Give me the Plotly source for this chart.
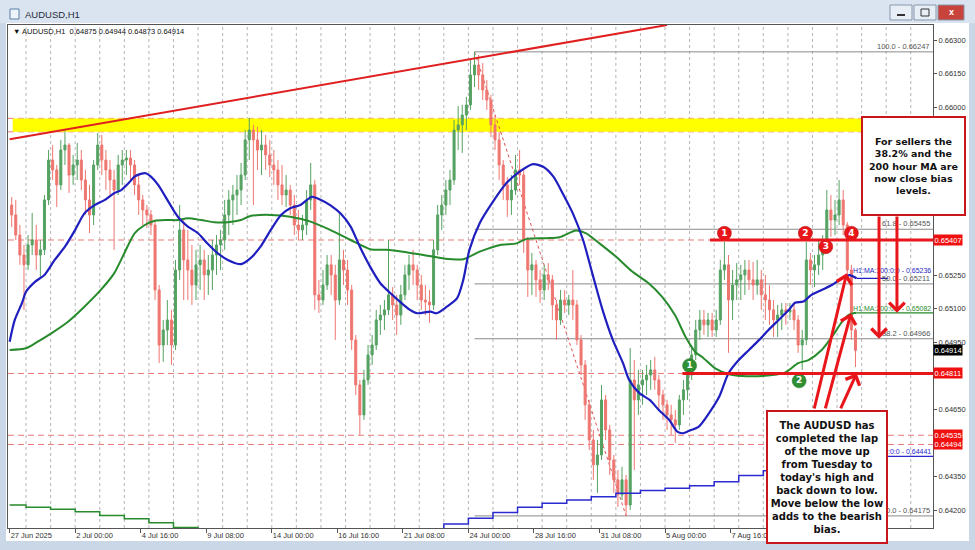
import plotly.graph_objects as go

# ---------------- data ----------------
# one candle per 4 trading hours; x = hours since the first bar on the chart
bar_hour = [4 * i + 2 for i in range(207)]
first_open = 0.65563
high = [
    0.65599, 0.65586, 0.65474, 0.65385, 0.65429, 0.65528, 0.65474, 0.65407, 0.65608, 0.65809,
    0.65831, 0.65742, 0.65854, 0.65893, 0.65840, 0.65787, 0.65840, 0.65809, 0.65720, 0.65653,
    0.65764, 0.65885, 0.65876, 0.65809, 0.65764, 0.65720, 0.65787, 0.65809, 0.65809, 0.65809,
    0.65764, 0.65697, 0.65608, 0.65563, 0.65541, 0.65496, 0.65206, 0.65050, 0.65139, 0.65095,
    0.65318, 0.65563, 0.65496, 0.65452, 0.65385, 0.65363, 0.65385, 0.65363, 0.65340, 0.65407,
    0.65429, 0.65452, 0.65586, 0.65630, 0.65653, 0.65697, 0.65751, 0.65898, 0.65952, 0.65921,
    0.65912, 0.65898, 0.65876, 0.65854, 0.65809, 0.65764, 0.65742, 0.65697, 0.65653, 0.65608,
    0.65541, 0.65519, 0.65630, 0.65751, 0.65675, 0.65229, 0.65273, 0.65340, 0.65340, 0.65296,
    0.65528, 0.65363, 0.65318, 0.65206, 0.64983, 0.64782, 0.64827, 0.64938, 0.64983, 0.65095,
    0.65117, 0.65139, 0.65407, 0.65197, 0.65162, 0.65206, 0.65296, 0.65340, 0.65363, 0.65296,
    0.65251, 0.65206, 0.65184, 0.65407, 0.65563, 0.65608, 0.65675, 0.65720, 0.65943, 0.66005,
    0.66010, 0.66046, 0.66211, 0.66247, 0.66233, 0.66197, 0.66121, 0.66055, 0.65965, 0.65885,
    0.65764, 0.65688, 0.65697, 0.65787, 0.65809, 0.65720, 0.65421, 0.65349, 0.65318, 0.65273,
    0.65296, 0.65304, 0.65251, 0.65139, 0.65184, 0.65184, 0.65162, 0.65273, 0.65139, 0.64983,
    0.64871, 0.64693, 0.64559, 0.64514, 0.64760, 0.64715, 0.64581, 0.64447, 0.64380, 0.64394,
    0.64358, 0.64925, 0.64871, 0.64827, 0.64827, 0.64849, 0.64871, 0.64885, 0.64804, 0.64738,
    0.64693, 0.64671, 0.64648, 0.64715, 0.64782, 0.64849, 0.64938, 0.65050, 0.65095, 0.65095,
    0.65081, 0.65081, 0.65095, 0.65318, 0.65398, 0.65340, 0.65273, 0.65304, 0.65296, 0.65318,
    0.65318, 0.65309, 0.65318, 0.65273, 0.65251, 0.65206, 0.65139, 0.65117, 0.65126, 0.65126,
    0.65126, 0.65117, 0.65072, 0.65005, 0.65398, 0.65349, 0.65340, 0.65407, 0.65429, 0.65630,
    0.65608, 0.65586, 0.65675, 0.65630, 0.65487, 0.65296, 0.65014]
low = [
    0.65465, 0.65407, 0.65296, 0.65095, 0.65273, 0.65340, 0.65273, 0.65242, 0.65340, 0.65563,
    0.65675, 0.65554, 0.65630, 0.65742, 0.65617, 0.65653, 0.65675, 0.65630, 0.65519, 0.65438,
    0.65474, 0.65720, 0.65697, 0.65630, 0.65608, 0.65363, 0.65608, 0.65653, 0.65697, 0.65675,
    0.65608, 0.65519, 0.65474, 0.65461, 0.65429, 0.65139, 0.64858, 0.64863, 0.64938, 0.64849,
    0.64916, 0.65229, 0.65139, 0.65139, 0.65117, 0.65139, 0.65184, 0.65139, 0.65162, 0.65184,
    0.65251, 0.65273, 0.65363, 0.65429, 0.65474, 0.65519, 0.65563, 0.65675, 0.65764, 0.65563,
    0.65720, 0.65697, 0.65720, 0.65688, 0.65653, 0.65586, 0.65563, 0.65554, 0.65519, 0.65429,
    0.65407, 0.65407, 0.65429, 0.65541, 0.65095, 0.65081, 0.65117, 0.65184, 0.65162, 0.64961,
    0.65117, 0.65206, 0.65117, 0.64916, 0.64715, 0.64537, 0.64604, 0.64760, 0.64849, 0.64916,
    0.64983, 0.65005, 0.65072, 0.65050, 0.64983, 0.65028, 0.65139, 0.65184, 0.65206, 0.65139,
    0.65095, 0.65072, 0.65037, 0.65095, 0.65340, 0.65452, 0.65519, 0.65563, 0.65653, 0.65809,
    0.65796, 0.65898, 0.65988, 0.66090, 0.66077, 0.66032, 0.65988, 0.65867, 0.65809, 0.65675,
    0.65586, 0.65510, 0.65519, 0.65608, 0.65653, 0.65349, 0.65153, 0.65162, 0.65153, 0.65126,
    0.65139, 0.65184, 0.65050, 0.64961, 0.65028, 0.65081, 0.65072, 0.65050, 0.64938, 0.64804,
    0.64604, 0.64470, 0.64336, 0.64278, 0.64425, 0.64514, 0.64358, 0.64278, 0.64215, 0.64246,
    0.64175, 0.64202, 0.64380, 0.64626, 0.64671, 0.64715, 0.64738, 0.64738, 0.64648, 0.64604,
    0.64559, 0.64537, 0.64501, 0.64559, 0.64626, 0.64693, 0.64782, 0.64871, 0.64961, 0.64983,
    0.64974, 0.64974, 0.64974, 0.65028, 0.65229, 0.64903, 0.65050, 0.65139, 0.65139, 0.65162,
    0.65184, 0.65139, 0.65162, 0.65095, 0.65050, 0.65028, 0.64974, 0.64974, 0.65005, 0.65028,
    0.65050, 0.65005, 0.64903, 0.64827, 0.64938, 0.65206, 0.65197, 0.65251, 0.65273, 0.65363,
    0.65421, 0.65429, 0.65474, 0.65429, 0.65229, 0.64961, 0.64840]
close = [
    0.65519, 0.65429, 0.65340, 0.65296, 0.65385, 0.65407, 0.65340, 0.65363, 0.65586, 0.65764,
    0.65720, 0.65653, 0.65809, 0.65831, 0.65697, 0.65742, 0.65764, 0.65675, 0.65586, 0.65519,
    0.65742, 0.65831, 0.65764, 0.65720, 0.65675, 0.65630, 0.65742, 0.65764, 0.65773, 0.65742,
    0.65653, 0.65586, 0.65541, 0.65519, 0.65474, 0.65184, 0.64938, 0.65005, 0.65050, 0.64938,
    0.65273, 0.65452, 0.65318, 0.65273, 0.65206, 0.65296, 0.65318, 0.65251, 0.65273, 0.65340,
    0.65385, 0.65407, 0.65519, 0.65586, 0.65608, 0.65630, 0.65697, 0.65854, 0.65898, 0.65854,
    0.65809, 0.65831, 0.65787, 0.65742, 0.65720, 0.65653, 0.65608, 0.65630, 0.65563, 0.65474,
    0.65452, 0.65474, 0.65586, 0.65653, 0.65162, 0.65139, 0.65206, 0.65296, 0.65251, 0.65139,
    0.65318, 0.65273, 0.65184, 0.64961, 0.64760, 0.64626, 0.64782, 0.64894, 0.64938, 0.65050,
    0.65072, 0.65095, 0.65162, 0.65117, 0.65072, 0.65162, 0.65251, 0.65296, 0.65273, 0.65206,
    0.65139, 0.65130, 0.65117, 0.65363, 0.65519, 0.65563, 0.65630, 0.65675, 0.65898, 0.65921,
    0.65965, 0.66010, 0.66144, 0.66188, 0.66144, 0.66077, 0.66032, 0.65921, 0.65854, 0.65742,
    0.65653, 0.65586, 0.65630, 0.65720, 0.65697, 0.65407, 0.65273, 0.65296, 0.65229, 0.65184,
    0.65251, 0.65229, 0.65117, 0.65050, 0.65139, 0.65117, 0.65139, 0.65117, 0.64961, 0.64849,
    0.64671, 0.64514, 0.64403, 0.64447, 0.64693, 0.64559, 0.64425, 0.64336, 0.64269, 0.64336,
    0.64224, 0.64782, 0.64693, 0.64760, 0.64782, 0.64804, 0.64827, 0.64782, 0.64715, 0.64671,
    0.64626, 0.64604, 0.64581, 0.64693, 0.64738, 0.64804, 0.64894, 0.65005, 0.65050, 0.65028,
    0.65050, 0.65005, 0.65050, 0.65273, 0.65296, 0.65139, 0.65206, 0.65229, 0.65251, 0.65273,
    0.65229, 0.65206, 0.65229, 0.65162, 0.65139, 0.65095, 0.65050, 0.65072, 0.65095, 0.65086,
    0.65095, 0.65050, 0.64938, 0.64961, 0.65318, 0.65273, 0.65296, 0.65340, 0.65385, 0.65541,
    0.65496, 0.65519, 0.65586, 0.65474, 0.65273, 0.65005, 0.64914]
open_ = [first_open] + close[:-1]

ma100_hour = [0, 5, 12, 16, 25, 34, 44, 54, 64, 73, 83, 93, 102, 109, 116, 122, 128, 133, 138, 145,
              154, 161, 167, 174, 184, 193, 203, 213, 226, 235, 245, 255, 265, 274, 284, 295, 304, 313, 323, 333,
              342, 352, 362, 372, 381, 391, 398, 411, 417, 427, 437, 443, 449, 459, 472, 485, 498, 511, 521, 531,
              540, 550, 560, 569, 579, 589, 599, 605, 615, 625, 634, 644, 652, 657, 663, 673, 683, 693, 702, 712,
              722, 732, 741, 751, 761, 767, 775, 783, 793, 803, 813, 820, 827]
ma100 = [0.64953, 0.65050, 0.65125, 0.65176, 0.65221, 0.65251, 0.65318, 0.65377, 0.65452, 0.65526,
         0.65563, 0.65586, 0.65616, 0.65630, 0.65660, 0.65690, 0.65702, 0.65705, 0.65690, 0.65653,
         0.65586, 0.65533, 0.65496, 0.65467, 0.65437, 0.65392, 0.65348, 0.65318, 0.65299, 0.65325,
         0.65377, 0.65452, 0.65519, 0.65549, 0.65563, 0.65600, 0.65586, 0.65563, 0.65526, 0.65467,
         0.65377, 0.65288, 0.65214, 0.65169, 0.65132, 0.65095, 0.65080, 0.65087, 0.65080, 0.65109,
         0.65147, 0.65229, 0.65363, 0.65482, 0.65578, 0.65660, 0.65712, 0.65746, 0.65734, 0.65690,
         0.65616, 0.65526, 0.65407, 0.65258, 0.65095, 0.64961, 0.64857, 0.64782, 0.64723, 0.64693,
         0.64648, 0.64604, 0.64551, 0.64544, 0.64554, 0.64574, 0.64634, 0.64708, 0.64812, 0.64871,
         0.64916, 0.64961, 0.65005, 0.65050, 0.65095, 0.65127, 0.65132, 0.65162, 0.65184, 0.65206,
         0.65236, 0.65250, 0.65236]
ma200_hour = [0, 16, 25, 41, 57, 73, 89, 102, 112, 122, 132, 141, 154, 164, 174, 187, 200, 213, 226, 235,
              255, 274, 294, 313, 333, 352, 368, 384, 404, 423, 443, 459, 479, 495, 505, 524, 537, 553, 563, 576,
              592, 608, 624, 637, 650, 660, 670, 676, 689, 702, 715, 735, 757, 770, 780, 793, 803, 813, 819, 824, 827]
ma200 = [0.64916, 0.64924, 0.64946, 0.64991, 0.65042, 0.65109, 0.65184, 0.65258, 0.65348, 0.65437,
         0.65474, 0.65492, 0.65496, 0.65496, 0.65504, 0.65496, 0.65486, 0.65486, 0.65496, 0.65514,
         0.65519, 0.65511, 0.65489, 0.65452, 0.65407, 0.65366, 0.65363, 0.65355, 0.65340, 0.65325,
         0.65321, 0.65355, 0.65385, 0.65392, 0.65412, 0.65415, 0.65419, 0.65449, 0.65437, 0.65392,
         0.65333, 0.65266, 0.65214, 0.65154, 0.65070, 0.64975, 0.64905, 0.64886, 0.64834, 0.64809,
         0.64800, 0.64800, 0.64815, 0.64857, 0.64871, 0.64916, 0.64975, 0.65042, 0.65072, 0.65080, 0.65082]
# daily moving averages drawn as steps
d1_green_hour = [0, 16, 40, 64, 88, 112, 136, 160, 184, 208]
d1_green = [0.64224, 0.64214, 0.64205, 0.64194, 0.64177, 0.64162, 0.64144, 0.64123, 0.64100, 0.64080]
d1_blue_hour = [400, 424, 448, 472, 496, 520, 544, 568, 592, 616, 640, 664, 688, 712, 736, 760, 784, 808, 827]
d1_blue = [0.64110, 0.64139, 0.64165, 0.64190, 0.64214, 0.64232, 0.64246, 0.64261, 0.64276, 0.64288,
           0.64299, 0.64310, 0.64328, 0.64355, 0.64377, 0.64398, 0.64420, 0.64441, 0.64441]

x_tick_hours = [0, 64, 128, 192, 256, 320, 384, 448, 512, 576, 640, 704]
x_tick_text = ["27 Jun 2025", "2 Jul 00:00", "4 Jul 16:00", "9 Jul 08:00", "14 Jul 00:00",
               "16 Jul 16:00", "21 Jul 08:00", "24 Jul 00:00", "28 Jul 16:00", "31 Jul 08:00",
               "5 Aug 00:00", "7 Aug 16:00"]
# price-axis labels left visible (the others sit under the tags and the note box)
y_ticks = [0.66300, 0.66150, 0.66000, 0.65250, 0.65100, 0.64950, 0.64650, 0.64350, 0.64200]

last_bar_ohlc = [0.64875, 0.64944, 0.64873, 0.64914]
fib_names = ["100.0", "61.8", "50.0", "38.2", "0.0"]
fib_levels = [0.66247, 0.65455, 0.65211, 0.64966, 0.64175]
fib_high_hour, fib_low_hour = 454, 602
yellow_zone = [0.65890, 0.65950]
dashed_levels = [0.65950, 0.65890, 0.65407, 0.64811, 0.64535, 0.64494]
resistance, resistance_from = 0.65407, 684
support, support_from = 0.64811, 657
trend_hours = [0, 642]
trend_prices = [0.65857, 0.66367]
red_tags = [0.65407, 0.64811, 0.64535, 0.64494]
red_marks_hour = [698, 777, 797, 822]
red_marks_price = [0.65437, 0.65437, 0.65377, 0.65437]
red_marks_text = ["1", "2", "3", "4"]
green_marks_hour = [664, 771]
green_marks_price = [0.64846, 0.64778]
green_marks_text = ["1", "2"]
ma100_last, ma200_last, d1_last = 0.65236, 0.65082, 0.64441

box1_text = "For sellers the<br>38.2% and the<br>200 hour MA are<br>now close bias<br>levels."
box2_text = ("The AUDUSD has<br>completed the lap<br>of the move up<br>from Tuesday to<br>today's high and"
             "<br>back down to low.<br>Move below the low<br>adds to the bearish<br>bias.")

# ---------------- figure ----------------
W, H = 975, 550
ML, MR, MT, MB = 8, 42, 25, 22
PW, PH = W - ML - MR, H - MT - MB
X_RANGE = [-1.6, 901.7]
Y_RANGE = [0.64121, 0.66367]


def px(xp):   # pixel -> paper x
    return (xp - ML) / PW


def py(yp):   # pixel -> paper y
    return (H - MB - yp) / PH


GREEN_C = "#55a262"
RED_C = "#ee7670"
BLUE_MA = "#1f1fbf"
GREEN_MA = "#278a2c"
RED = "#e8161b"
AXF = dict(family="Liberation Sans", size=7.5, color="#333333")

fig = go.Figure()
fig.add_trace(go.Candlestick(
    x=bar_hour, open=open_, high=high, low=low, close=close,
    increasing=dict(line=dict(color=GREEN_C, width=1), fillcolor=GREEN_C),
    decreasing=dict(line=dict(color=RED_C, width=1), fillcolor=RED_C),
    whiskerwidth=0, hoverinfo="skip", showlegend=False))
fig.add_trace(go.Scatter(x=d1_green_hour, y=d1_green, mode="lines",
                         line=dict(color=GREEN_MA, width=1.5, shape="hv"), hoverinfo="skip"))
fig.add_trace(go.Scatter(x=d1_blue_hour, y=d1_blue, mode="lines",
                         line=dict(color="#2a2ad0", width=1.5, shape="hv"), hoverinfo="skip"))
fig.add_trace(go.Scatter(x=ma200_hour, y=ma200, mode="lines",
                         line=dict(color=GREEN_MA, width=2, shape="spline", smoothing=0.7), hoverinfo="skip"))
fig.add_trace(go.Scatter(x=ma100_hour, y=ma100, mode="lines",
                         line=dict(color=BLUE_MA, width=2.2, shape="spline", smoothing=0.7), hoverinfo="skip"))

shapes = []
# window chrome
shapes.append(dict(type="rect", xref="paper", yref="paper", x0=px(0), x1=px(W), y0=py(23), y1=py(0),
                   fillcolor="#dae4f0", line=dict(width=0), layer="below"))
shapes.append(dict(type="rect", xref="paper", yref="paper", x0=px(0), x1=px(6), y0=py(H), y1=py(23),
                   fillcolor="#c9d7e7", line=dict(width=0), layer="below"))
shapes.append(dict(type="rect", xref="paper", yref="paper", x0=px(969), x1=px(W), y0=py(H), y1=py(23),
                   fillcolor="#c9d7e7", line=dict(width=0), layer="below"))
shapes.append(dict(type="rect", xref="paper", yref="paper", x0=px(0), x1=px(W), y0=py(H), y1=py(541),
                   fillcolor="#c9d7e7", line=dict(width=0), layer="below"))
shapes.append(dict(type="rect", xref="paper", yref="paper", x0=px(10), x1=px(19), y0=py(19), y1=py(9),
                   fillcolor="#eef4fb", line=dict(color="#5a7fa8", width=1), layer="below"))
for bx0, bx1, fc in [(890, 912, "#e8eef6"), (914, 936, "#e8eef6"), (938, 964, "#c8433b")]:
    shapes.append(dict(type="rect", xref="paper", yref="paper", x0=px(bx0), x1=px(bx1), y0=py(20), y1=py(5),
                       fillcolor=fc, line=dict(color="#8796aa", width=1), layer="below"))
shapes.append(dict(type="line", xref="paper", yref="paper", x0=px(897), x1=px(905), y0=py(15), y1=py(15),
                   line=dict(color="#333", width=2), layer="below"))
shapes.append(dict(type="rect", xref="paper", yref="paper", x0=px(921), x1=px(929), y0=py(16), y1=py(9),
                   line=dict(color="#333", width=1), layer="below"))

# vertical dotted grid, every 24 bars
for g in range(16, 900, 24):
    shapes.append(dict(type="line", xref="x", yref="paper", x0=g, x1=g, y0=0, y1=1,
                       line=dict(color="#b5b5b5", width=1, dash="3px,3px"), layer="below"))
# yellow zone
shapes.append(dict(type="rect", xref="x", yref="y", x0=3, x1=X_RANGE[1], y0=yellow_zone[0], y1=yellow_zone[1],
                   fillcolor="#ffff00", line=dict(width=0), layer="below"))
# dashed levels
for lv in dashed_levels:
    shapes.append(dict(type="line", xref="paper", yref="y", x0=0, x1=1, y0=lv, y1=lv,
                       line=dict(color="#ee7b7b", width=1, dash="6px,4px"), layer="below"))
# fibonacci
for lv in fib_levels:
    shapes.append(dict(type="line", xref="x", yref="y", x0=fib_high_hour, x1=X_RANGE[1], y0=lv, y1=lv,
                       line=dict(color="#8a8a8a", width=1), layer="below"))
shapes.append(dict(type="line", xref="x", yref="y", x0=fib_high_hour, x1=fib_low_hour,
                   y0=fib_levels[0], y1=fib_levels[-1],
                   line=dict(color="#e05050", width=1, dash="dot"), layer="below"))
# MA label lines
shapes.append(dict(type="line", xref="x", yref="y", x0=ma100_hour[-1], x1=858, y0=ma100_last, y1=ma100_last,
                   line=dict(color=BLUE_MA, width=1.2), layer="below"))
shapes.append(dict(type="line", xref="x", yref="y", x0=ma200_hour[-1], x1=X_RANGE[1], y0=ma200_last, y1=ma200_last,
                   line=dict(color=GREEN_MA, width=1.2), layer="below"))
shapes.append(dict(type="line", xref="x", yref="y", x0=d1_blue_hour[-1], x1=X_RANGE[1], y0=d1_last, y1=d1_last,
                   line=dict(color="#2a2ad0", width=1.2), layer="below"))
# trend line
shapes.append(dict(type="line", xref="x", yref="y", x0=trend_hours[0], x1=trend_hours[1],
                   y0=trend_prices[0], y1=trend_prices[1], line=dict(color="#e02020", width=2), layer="above"))
# solid red levels
shapes.append(dict(type="line", xref="x", yref="y", x0=resistance_from, x1=X_RANGE[1], y0=resistance, y1=resistance,
                   line=dict(color="#e8161b", width=3), layer="above"))
shapes.append(dict(type="line", xref="x", yref="y", x0=support_from, x1=X_RANGE[1], y0=support, y1=support,
                   line=dict(color="#e8161b", width=3), layer="above"))
# upper note box (covers the price-axis labels behind it)
shapes.append(dict(type="rect", xref="paper", yref="paper", x0=px(862), x1=px(965), y0=py(215), y1=py(117),
                   fillcolor="white", line=dict(color="#c8161b", width=2), layer="above"))

# circled markers
fig.add_trace(go.Scatter(x=red_marks_hour, y=red_marks_price, mode="markers+text",
                         text=["<b>%s</b>" % t for t in red_marks_text], textposition="middle center",
                         textfont=dict(color="white", size=9, family="DejaVu Sans"),
                         marker=dict(size=14, color=RED, line=dict(color="#b01010", width=0.5)), hoverinfo="skip"))
fig.add_trace(go.Scatter(x=green_marks_hour, y=green_marks_price, mode="markers+text",
                         text=["<b>%s</b>" % t for t in green_marks_text], textposition="middle center",
                         textfont=dict(color="white", size=9, family="DejaVu Sans"),
                         marker=dict(size=14, color="#2f8f33", line=dict(color="#1f6f23", width=0.5)), hoverinfo="skip"))

ann = []
ann.append(dict(xref="paper", yref="paper", x=px(23), y=py(14), xanchor="left", yanchor="middle",
                text="AUDUSD,H1", showarrow=False, font=dict(family="Liberation Sans", size=9.5, color="#1e2b3a")))
ann.append(dict(xref="paper", yref="paper", x=px(951), y=py(12.5), xanchor="center", yanchor="middle",
                text="<b>x</b>", showarrow=False, font=dict(family="Liberation Sans", size=9, color="white")))
ann.append(dict(xref="paper", yref="paper", x=px(11), y=py(31), xanchor="left", yanchor="middle",
                text="▼ AUDUSD,H1  " + " ".join("%.5f" % v for v in last_bar_ohlc), showarrow=False,
                font=dict(family="Liberation Sans", size=7.5, color="#111")))
for nm, lv in zip(fib_names, fib_levels):
    ann.append(dict(xref="paper", yref="y", x=px(931), y=lv, xanchor="right", yanchor="bottom",
                    text="%s - %.5f" % (nm, lv), showarrow=False, font=dict(family="Liberation Sans", size=7.5, color="#555"),
                    borderpad=0))
ann.append(dict(xref="x", yref="y", x=ma100_hour[-1] - 4, y=ma100_last, xanchor="left", yanchor="bottom",
                text="H1:MA:100:0:0 - %.5f" % ma100_last, showarrow=False, borderpad=0, yshift=3,
                font=dict(family="Liberation Sans", size=7, color=BLUE_MA)))
ann.append(dict(xref="x", yref="y", x=ma200_hour[-1] - 4, y=ma200_last, xanchor="left", yanchor="bottom",
                text="H1:MA:200:0:0 - %.5f" % ma200_last, showarrow=False, borderpad=0,
                font=dict(family="Liberation Sans", size=7, color=GREEN_MA)))
ann.append(dict(xref="paper", yref="y", x=px(932), y=d1_last, xanchor="right", yanchor="bottom",
                text="D1:MA:100:0:0 - %.5f" % d1_last, showarrow=False, borderpad=0,
                font=dict(family="Liberation Sans", size=7, color="#2a2ad0")))
# axis price tags
for lv in red_tags:
    ann.append(dict(xref="paper", yref="y", x=1.0, y=lv, xanchor="left", yanchor="middle",
                    text="%.5f" % lv, showarrow=False, bgcolor="#f01010", borderpad=0.5,
                    font=dict(family="Liberation Sans", size=7.5, color="white")))
ann.append(dict(xref="paper", yref="y", x=1.0, y=close[-1], xanchor="left", yanchor="middle",
                text="%.5f" % close[-1], showarrow=False, bgcolor="#000000", borderpad=0.5,
                font=dict(family="Liberation Sans", size=7.5, color="white")))
# note texts
ann.append(dict(xref="paper", yref="paper", x=px(913.5), y=py(166), xanchor="center", yanchor="middle",
                text="<b>%s</b>" % box1_text, showarrow=False, align="center",
                font=dict(family="DejaVu Sans", size=9.5, color="#111")))
# lower note box drawn as a boxed annotation so it covers the MA label behind it
ann.append(dict(xref="paper", yref="paper", x=px(827), y=py(477), xanchor="center", yanchor="middle",
                text="<b>%s</b>" % box2_text, showarrow=False, align="center", valign="middle",
                width=118, height=130, bgcolor="white", bordercolor="#c8161b", borderwidth=2, borderpad=0,
                font=dict(family="DejaVu Sans", size=10, color="#111")))
# arrows
arrows = [
    (849, fib_levels[3], 849, 0.65519),
    (866.5, ma200_last, 866.5, 0.65519),
    (817.4, 0.65258, 785.4, 0.64648),
    (821.6, 0.65080, 796.2, 0.64648),
    (827.2, 0.64812, 810.9, 0.64648),
]
for hx, hy, tx, ty in arrows:
    ann.append(dict(xref="x", yref="y", axref="x", ayref="y", x=hx, y=hy, ax=tx, ay=ty, text="",
                    showarrow=True, arrowhead=4, arrowsize=1, arrowwidth=3, arrowcolor="#e8161b", standoff=0))

fig.update_layout(
    width=W, height=H, margin=dict(l=ML, r=MR, t=MT, b=MB),
    paper_bgcolor="white", plot_bgcolor="white", showlegend=False,
    shapes=shapes, annotations=ann,
    xaxis=dict(range=X_RANGE, tickmode="array", tickvals=x_tick_hours, ticktext=x_tick_text,
               ticklabelposition="outside right", ticks="outside", ticklen=4, tickcolor="#555",
               tickfont=AXF, showgrid=False, zeroline=False, showline=True, mirror=True,
               linecolor="#555", linewidth=1, rangeslider=dict(visible=False), fixedrange=True),
    yaxis=dict(range=Y_RANGE, side="right", tickmode="array", tickvals=y_ticks, tickformat=".5f",
               ticks="outside", ticklen=3, tickcolor="#555", tickfont=AXF, showgrid=False, zeroline=False,
               showline=True, mirror=True, linecolor="#555", linewidth=1, fixedrange=True),
)

fig.write_html("out.html", config={"displayModeBar": False},
               post_script="document.body.style.margin='0';document.body.style.overflow='hidden';")
